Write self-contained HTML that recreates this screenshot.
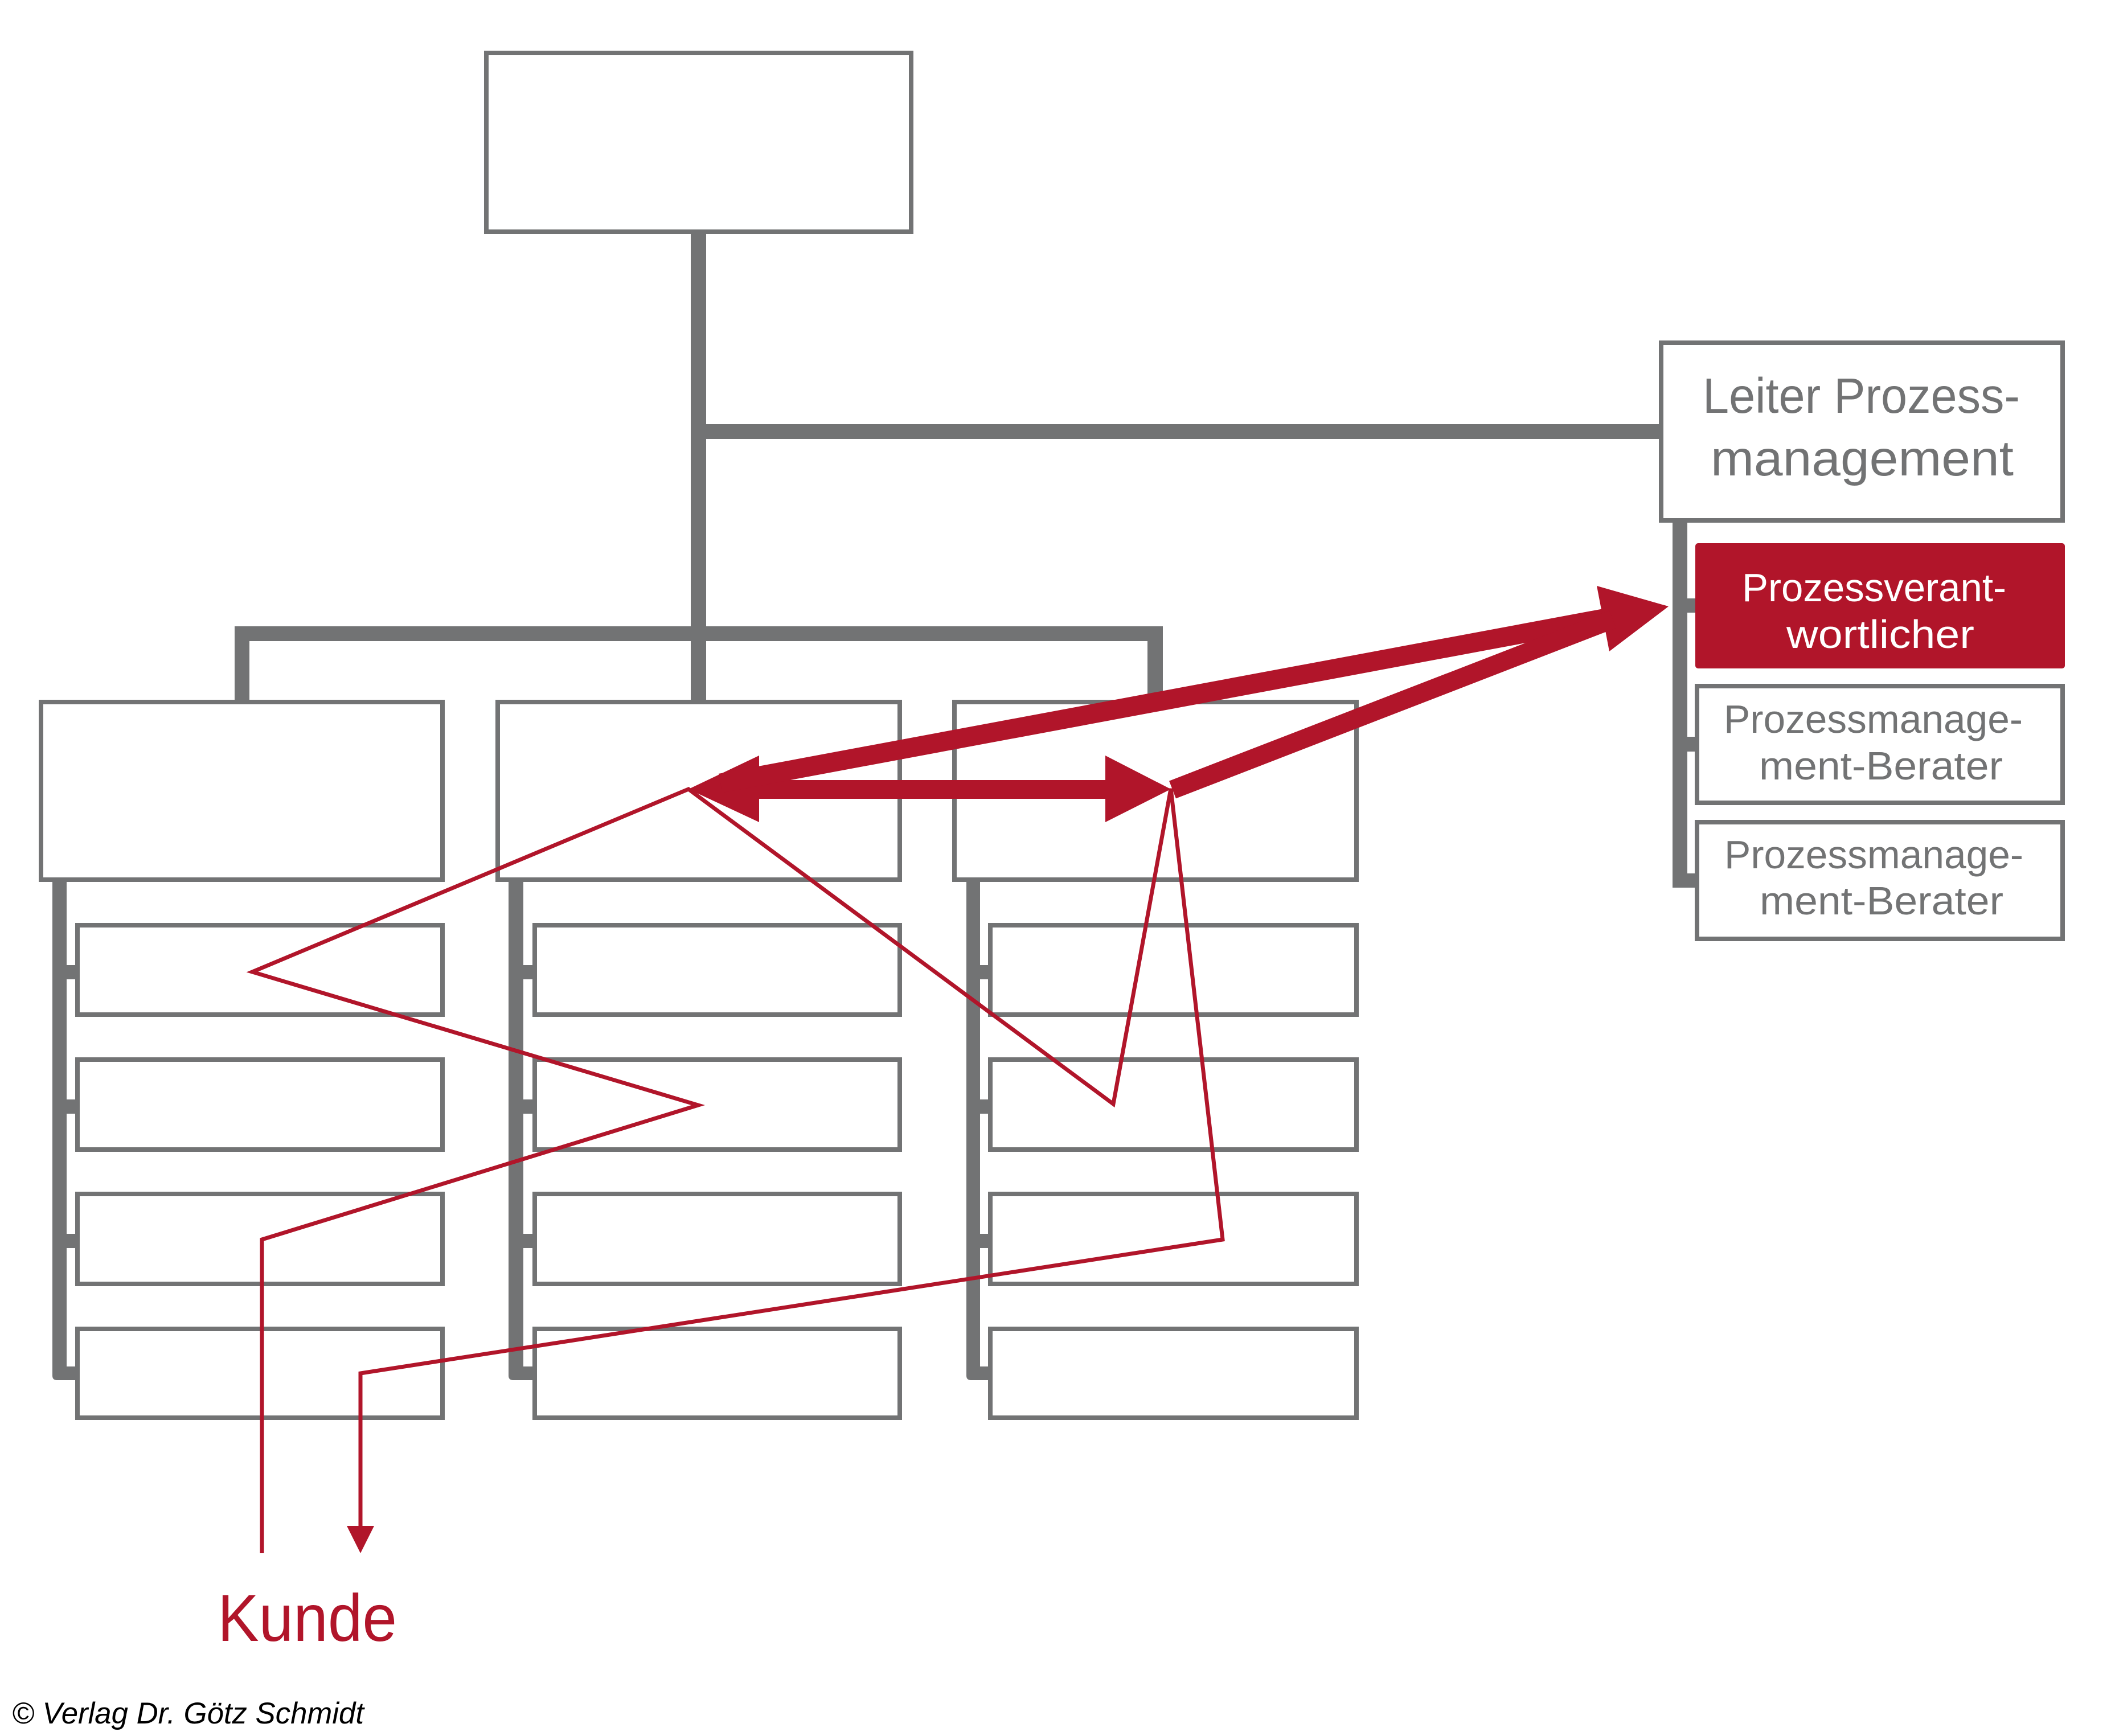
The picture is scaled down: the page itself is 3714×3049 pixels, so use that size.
<!DOCTYPE html>
<html>
<head>
<meta charset="utf-8">
<style>
  html, body { margin: 0; padding: 0; background: #ffffff; }
  svg { display: block; }
</style>
</head>
<body>
<svg xmlns="http://www.w3.org/2000/svg" width="3714" height="3049" viewBox="0 0 3714 3049">
  <rect x="0" y="0" width="3714" height="3049" fill="#ffffff"/>

  <!-- ===== Gray connectors ===== -->
  <g fill="#727374">
    <!-- trunk -->
    <rect x="1213" y="407" width="27" height="826"/>
    <!-- horizontal to Leiter -->
    <rect x="1213" y="745" width="1704" height="26"/>
    <!-- department bar -->
    <rect x="412" y="1100" width="1630" height="26"/>
    <rect x="412" y="1100" width="26" height="131"/>
    <rect x="2015" y="1100" width="27" height="131"/>

    <!-- right group bar -->
    <rect x="2937" y="914" width="26" height="645"/>
    <rect x="2937" y="1051" width="43" height="25"/>
    <rect x="2937" y="1294" width="43" height="26"/>
    <rect x="2937" y="1534" width="43" height="25"/>

    <!-- column 1 side bar -->
    <path d="M92,1545 V2416 Q92,2424 100,2424 H136 V2400 H117 V1545 Z"/>
    <rect x="117" y="1695" width="19" height="25"/>
    <rect x="117" y="1931" width="19" height="25"/>
    <rect x="117" y="2167" width="19" height="25"/>

    <!-- column 2 side bar -->
    <path d="M893,1545 V2416 Q893,2424 901,2424 H939 V2400 H919 V1545 Z"/>
    <rect x="919" y="1695" width="20" height="25"/>
    <rect x="919" y="1931" width="20" height="25"/>
    <rect x="919" y="2167" width="20" height="25"/>

    <!-- column 3 side bar -->
    <path d="M1697,1545 V2416 Q1697,2424 1705,2424 H1739 V2400 H1721 V1545 Z"/>
    <rect x="1721" y="1695" width="18" height="25"/>
    <rect x="1721" y="1931" width="18" height="25"/>
    <rect x="1721" y="2167" width="18" height="25"/>
  </g>

  <!-- ===== Boxes ===== -->
  <g fill="#ffffff" stroke="#727374" stroke-width="8">
    <!-- top box -->
    <rect x="854" y="93" width="746" height="314"/>
    <!-- Leiter box -->
    <rect x="2917" y="602" width="705" height="312"/>

    <!-- department boxes -->
    <rect x="72" y="1233" width="705" height="312"/>
    <rect x="874" y="1233" width="706" height="312"/>
    <rect x="1676" y="1233" width="706" height="312"/>

    <!-- column 1 sub boxes -->
    <rect x="136" y="1625" width="641" height="157"/>
    <rect x="136" y="1861" width="641" height="158"/>
    <rect x="136" y="2097" width="641" height="158"/>
    <rect x="136" y="2334" width="641" height="156"/>

    <!-- column 2 sub boxes -->
    <rect x="939" y="1625" width="641" height="157"/>
    <rect x="939" y="1861" width="641" height="158"/>
    <rect x="939" y="2097" width="641" height="158"/>
    <rect x="939" y="2334" width="641" height="156"/>

    <!-- column 3 sub boxes -->
    <rect x="1739" y="1625" width="643" height="157"/>
    <rect x="1739" y="1861" width="643" height="158"/>
    <rect x="1739" y="2097" width="643" height="158"/>
    <rect x="1739" y="2334" width="643" height="156"/>

    <!-- Berater boxes -->
    <rect x="2980" y="1205" width="642" height="205"/>
    <rect x="2980" y="1444" width="642" height="205"/>
  </g>

  <!-- red filled box -->
  <rect x="2977" y="954" width="649" height="220" rx="5" ry="5" fill="#b1152a"/>

  <!-- ===== Texts ===== -->
  <g font-family="'Liberation Sans', Arial, sans-serif" fill="#727374">
    <text x="2990" y="725" font-size="87" textLength="557" lengthAdjust="spacingAndGlyphs">Leiter Prozess-</text>
    <text x="3004" y="835" font-size="87" textLength="532" lengthAdjust="spacingAndGlyphs">management</text>

    <text x="3027" y="1287" font-size="70" textLength="525" lengthAdjust="spacingAndGlyphs">Prozessmanage-</text>
    <text x="3089" y="1369" font-size="70" textLength="428" lengthAdjust="spacingAndGlyphs">ment-Berater</text>

    <text x="3028" y="1525" font-size="70" textLength="525" lengthAdjust="spacingAndGlyphs">Prozessmanage-</text>
    <text x="3090" y="1606" font-size="70" textLength="428" lengthAdjust="spacingAndGlyphs">ment-Berater</text>
  </g>
  <g font-family="'Liberation Sans', Arial, sans-serif" fill="#ffffff">
    <text x="3059" y="1056" font-size="70" textLength="464" lengthAdjust="spacingAndGlyphs">Prozessverant-</text>
    <text x="3137" y="1138" font-size="70" textLength="330" lengthAdjust="spacingAndGlyphs">wortlicher</text>
  </g>

  <text x="382" y="2882" font-family="'Liberation Sans', Arial, sans-serif" font-size="117" fill="#b1152a" textLength="315" lengthAdjust="spacingAndGlyphs">Kunde</text>

  <text x="21" y="3027" font-family="'Liberation Sans', Arial, sans-serif" font-style="italic" font-size="53" fill="#000000" textLength="618" lengthAdjust="spacingAndGlyphs">© Verlag Dr. Götz Schmidt</text>

  <!-- ===== Red thick arrows ===== -->
  <g fill="#b1152a" stroke="none">
    <!-- horizontal double arrow -->
    <polygon points="1209,1386 1333,1327 1333,1370 1941,1370 1941,1327 2056,1386 1941,1444 1941,1403 1333,1403 1333,1444"/>
    <!-- arrow head at Prozessverantwortlicher -->
    <polygon points="2930,1065 2804,1029 2826,1144"/>
  </g>
  <g stroke="#b1152a" stroke-width="34" stroke-linecap="butt" fill="none">
    <!-- shaft A: from left arrow tip to head -->
    <line x1="1265" y1="1375.6" x2="2816" y2="1086.3"/>
    <!-- shaft B: from right arrow tip to head -->
    <line x1="2059" y1="1387" x2="2832" y2="1087.5" stroke-width="33"/>
  </g>

  <!-- ===== Red thin process path ===== -->
  <polyline points="460,2728 460,2177 1226,1941 443,1707 1209,1386 1955,1939 2056,1385 2147,2177 633,2412 633,2684"
            fill="none" stroke="#b1152a" stroke-width="7" stroke-linejoin="miter" stroke-miterlimit="6"/>
  <polygon points="609,2680 657,2680 633,2728" fill="#b1152a"/>
</svg>
</body>
</html>
